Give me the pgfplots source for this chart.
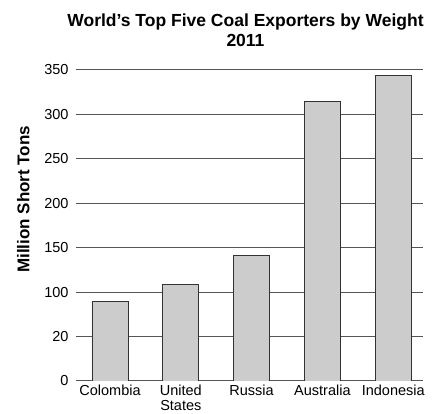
\documentclass[border=0pt]{standalone}
\usepackage{fontspec}
\setmainfont{Liberation Sans}
\usepackage{pgfplots}
\pgfplotsset{compat=1.18}
\definecolor{barfill}{HTML}{CCCCCC}
\definecolor{bardraw}{HTML}{333333}
\definecolor{gridc}{HTML}{555555}
\begin{document}
\begin{tikzpicture}
\begin{axis}[
    scale only axis,
    width=347pt, height=311pt,
    ybar, bar width=36pt,
    xmin=-0.48, xmax=4.42,
    ymin=0, ymax=350,
    xtick={0,...,4},
    xticklabels={Colombia, United\\States, Russia, Australia, Indonesia},
    xticklabel style={align=center, font=\fontsize{14.5}{15}\selectfont, yshift=0pt},
    ytick={0,50,...,350},
    yticklabels={0,20,100,150,200,250,300,350},
    yticklabel style={font=\fontsize{14.5}{16}\selectfont, xshift=-4pt},
    ymajorgrids, grid style={gridc, line width=1pt},
    axis line style={draw=none},
    major tick length=0pt,
    title={World’s Top Five Coal Exporters by Weight\\2011},
    title style={at={(0.5,1)}, anchor=south, align=center,
        font=\bfseries\fontsize{17.5}{20}\selectfont, yshift=14pt, xshift=-4pt},
    ylabel={Million Short Tons},
    ylabel style={at={(axis description cs:0,0.584)}, anchor=south,
        yshift=43pt, font=\bfseries\fontsize{17}{19}\selectfont},
]
\addplot[fill=barfill, draw=bardraw, line width=0.9pt] coordinates {
    (0,89) (1,109) (2,141) (3,315) (4,344)
};
\end{axis}
\pgfresetboundingbox
\path ([shift={(-76pt,-33pt)}]current axis.south west)
    rectangle ([shift={(14pt,70pt)}]current axis.north east);
\end{tikzpicture}
\end{document}
